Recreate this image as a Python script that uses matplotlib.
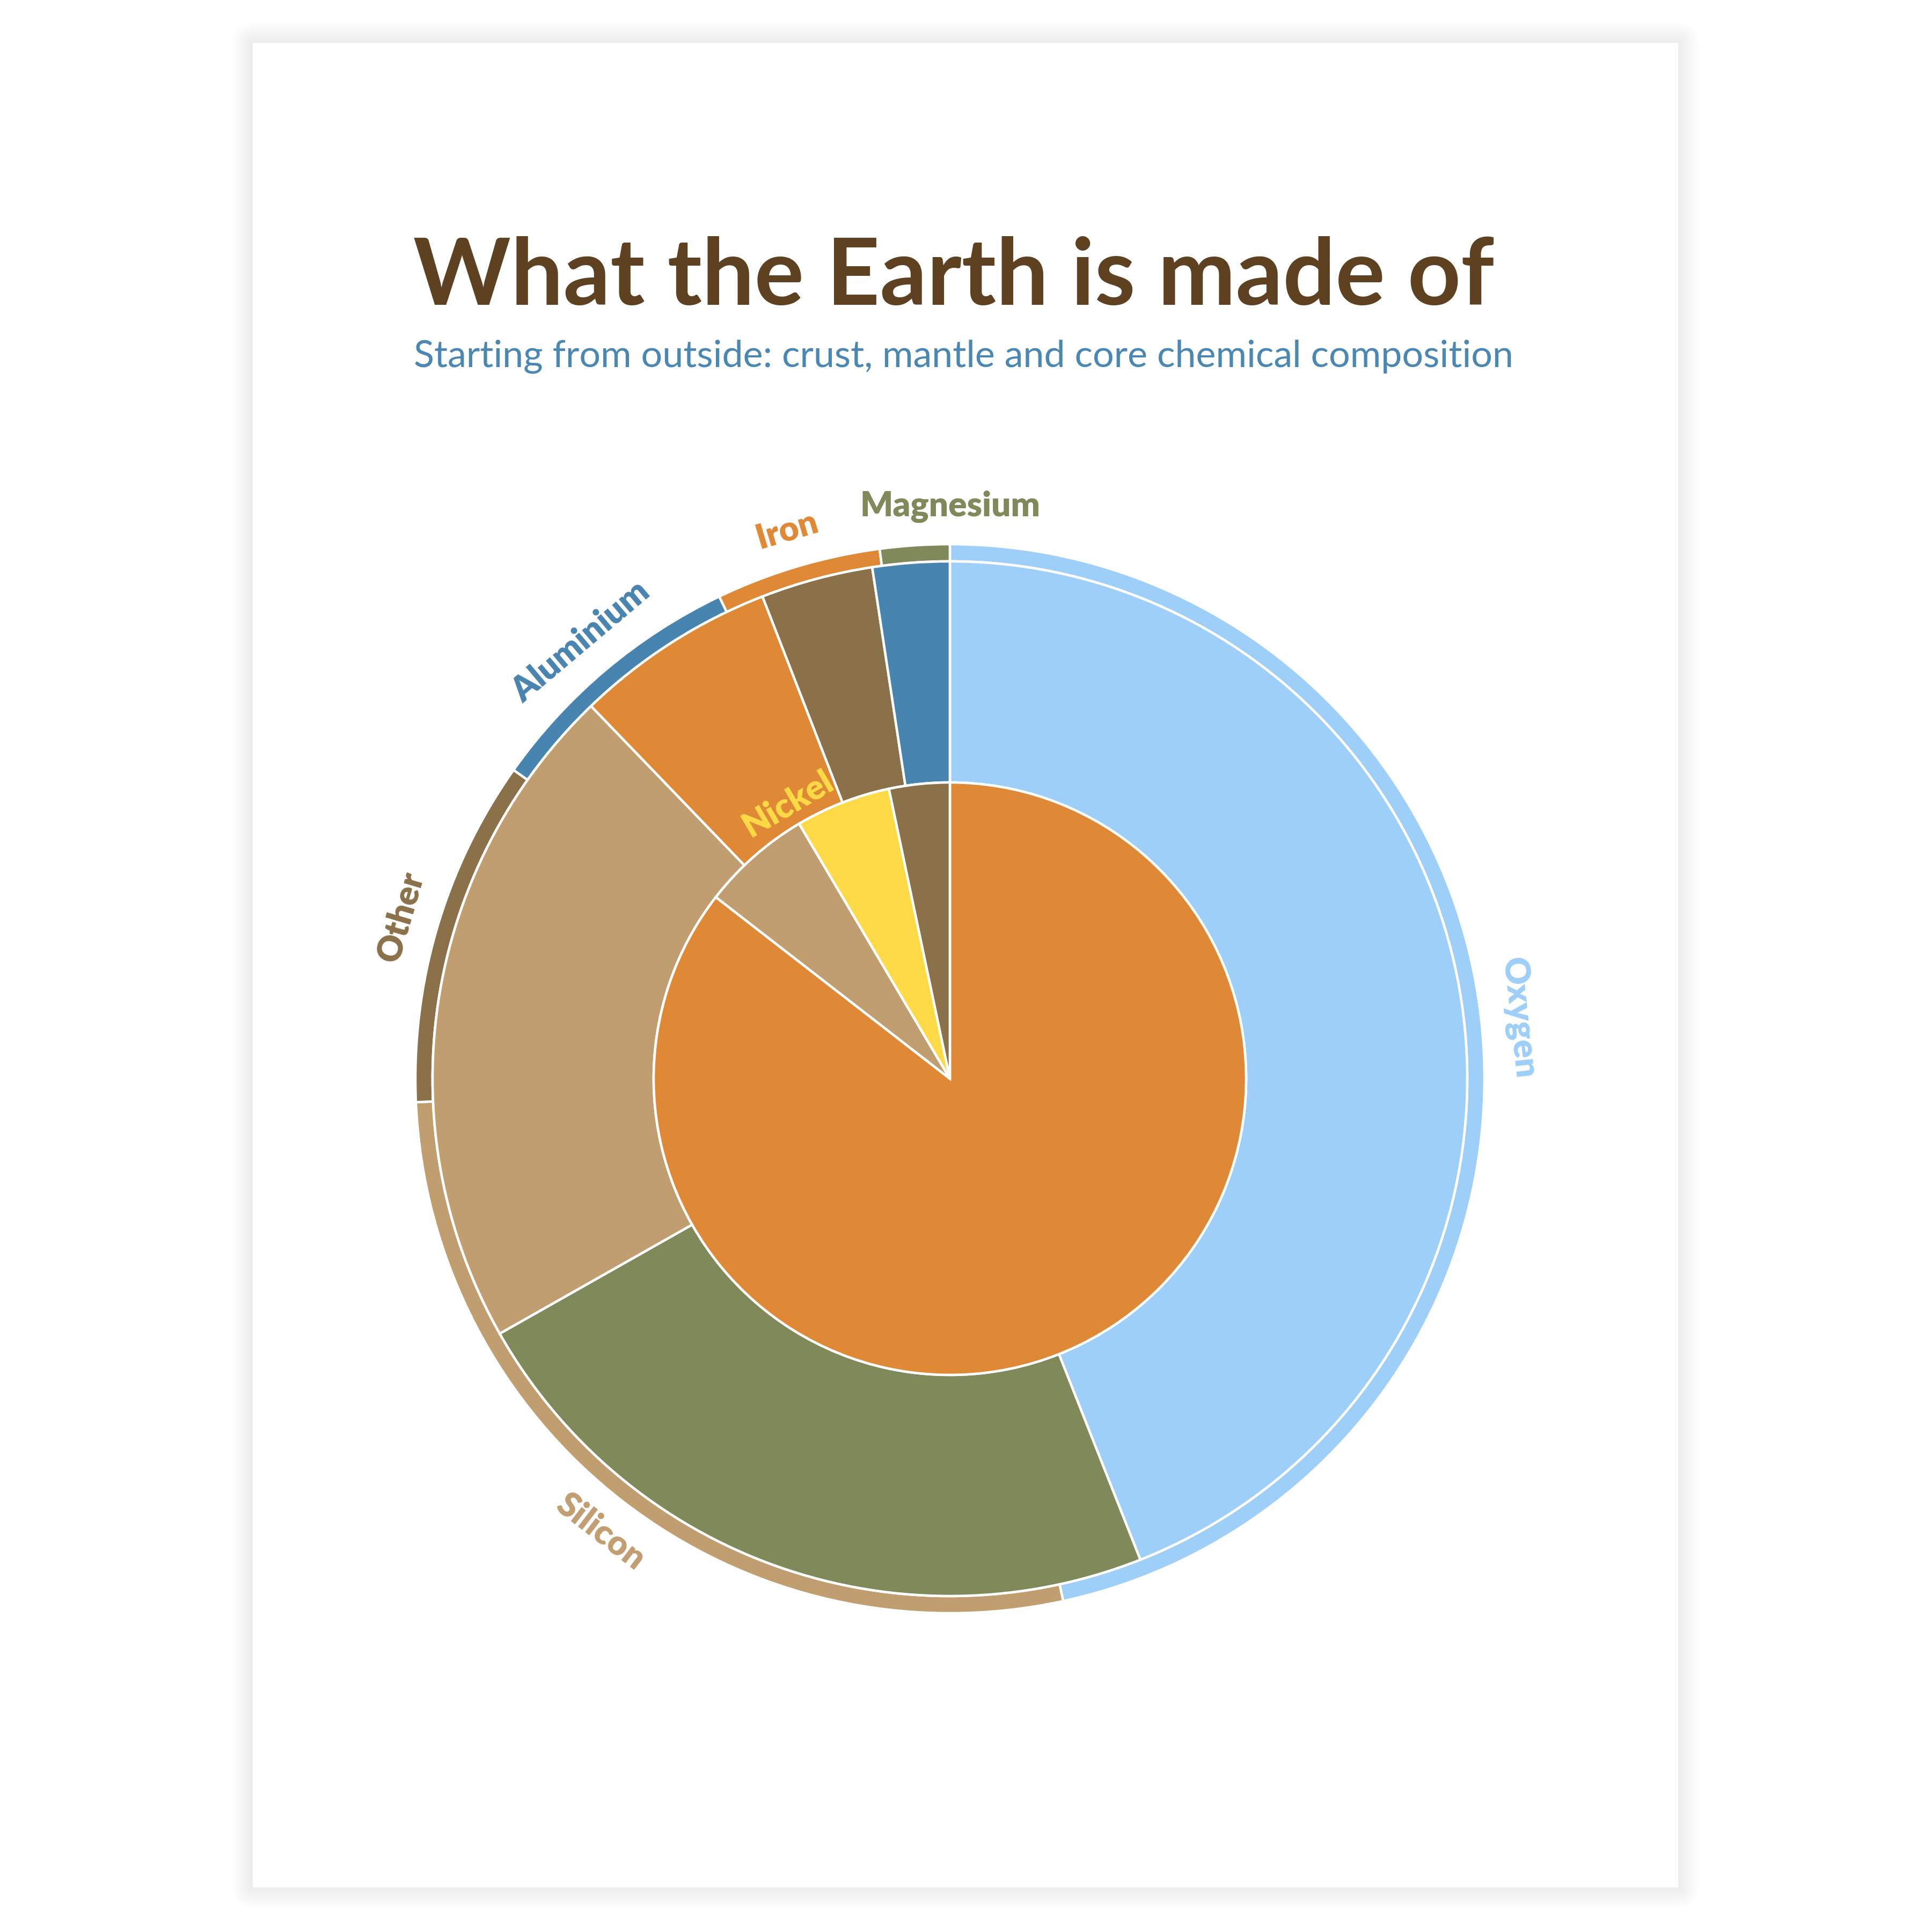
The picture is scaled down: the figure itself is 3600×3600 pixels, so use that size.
import matplotlib
matplotlib.use('Agg')
import matplotlib.pyplot as plt
from matplotlib.patches import FancyBboxPatch, Rectangle
import numpy as np

# ---------------- data ----------------
title = "What the Earth is made of"
subtitle = "Starting from outside: crust, mantle and core chemical composition"

crust_labels = ['Oxygen', 'Silicon', 'Other', 'Aluminium', 'Iron', 'Magnesium']
crust_values = [46.6, 27.7, 10.5, 8.1, 5.0, 2.1]

mantle_labels = ['Oxygen', 'Magnesium', 'Silicon', 'Iron', 'Other', 'Aluminium']
mantle_values = [44.0, 22.8, 21.0, 6.3, 3.5, 2.4]

core_labels = ['Iron', 'Silicon', 'Nickel', 'Other']
core_values = [85.5, 6.0, 5.2, 3.3]

element_colors = {
    'Oxygen': '#9ECFF9',
    'Silicon': '#C19E70',
    'Other': '#8B714A',
    'Aluminium': '#4884B0',
    'Iron': '#DF8835',
    'Magnesium': '#7F895A',
    'Nickel': '#FEDA47',
}

# ---------------- layout ----------------
W = H = 3600
DPI = 100
FONT = 'Lato'

fig = plt.figure(figsize=(W / DPI, H / DPI), dpi=DPI, facecolor='white')
ax = fig.add_axes([0, 0, 1, 1])


def Y(y):
    return H - y


# card with soft shadow
cx0, cy0, cx1, cy1 = 471, 80, 3127, 3517
for i in range(19):
    pad = 2 + i * 2
    p = FancyBboxPatch((cx0 - pad, Y(cy1) - pad), (cx1 - cx0) + 2 * pad,
                       (cy1 - cy0) + 2 * pad,
                       boxstyle=f"round,pad=0,rounding_size={pad}",
                       fc='black', ec='none', alpha=0.0045, zorder=0)
    ax.add_patch(p)
ax.add_patch(Rectangle((cx0, Y(cy1)), cx1 - cx0, cy1 - cy0, fc='white',
                       ec='none', zorder=1))

# sunburst rings
ccx, ccy = 1770, Y(2010)
R_OUT = 996
R_CRUST_IN = 964
R_CORE = 552
EDGE_LW = 3.3

ax.pie(crust_values, radius=R_OUT, center=(ccx, ccy), startangle=90,
       counterclock=False, colors=[element_colors[k] for k in crust_labels],
       wedgeprops=dict(width=R_OUT - R_CRUST_IN, edgecolor='white',
                       linewidth=EDGE_LW, zorder=3), frame=False)
ax.pie(mantle_values, radius=R_CRUST_IN, center=(ccx, ccy), startangle=90,
       counterclock=False, colors=[element_colors[k] for k in mantle_labels],
       wedgeprops=dict(width=R_CRUST_IN - R_CORE, edgecolor='white',
                       linewidth=EDGE_LW, zorder=3), frame=False)
ax.pie(core_values, radius=R_CORE, center=(ccx, ccy), startangle=90,
       counterclock=False, colors=[element_colors[k] for k in core_labels],
       wedgeprops=dict(edgecolor='white', linewidth=EDGE_LW, zorder=4),
       frame=False)

ax.set_xlim(0, W)
ax.set_ylim(0, H)
ax.set_aspect('equal')
ax.axis('off')

# ---------------- labels ----------------
LABEL_FS = 46
LABEL_R = 1066
# label placement tweaks (angle in degrees clockwise from top)
label_angle_override = {'Magnesium': 0.0}


def place_label(text, theta, r, color):
    t = np.deg2rad(theta)
    x = ccx + r * np.sin(t)
    y = ccy + r * np.cos(t)
    rot = -theta
    if 90 < theta % 360 < 270:
        rot += 180
    ax.text(x, y, text, rotation=rot, rotation_mode='anchor', ha='center',
            va='center', fontsize=LABEL_FS, fontweight='heavy',
            family=FONT, color=color, zorder=6)


total = sum(crust_values)
cum = 0.0
for lab, v in zip(crust_labels, crust_values):
    mid = 360.0 * (cum + v / 2.0) / total
    cum += v
    theta = label_angle_override.get(lab, mid)
    place_label(lab, theta, LABEL_R, element_colors[lab])

# Nickel label in the core
place_label('Nickel', 329.5, 594, element_colors['Nickel'])

# ---------------- titles ----------------
renderer = fig.canvas.get_renderer()


def fitted_text(x, y, s, width, fs, **kw):
    t = ax.text(x, y, s, fontsize=fs, ha='left', va='baseline', zorder=6,
                family=FONT, **kw)
    w = t.get_window_extent(renderer).width
    t.set_fontsize(fs * width / w)
    return t


fitted_text(770, Y(568), title, 2014, 120, fontweight='bold', color='#5E4120')
fitted_text(771, Y(684), subtitle, 2050, 50, color='#4A87B2')

fig.savefig('out.png', dpi=DPI, facecolor='white')
